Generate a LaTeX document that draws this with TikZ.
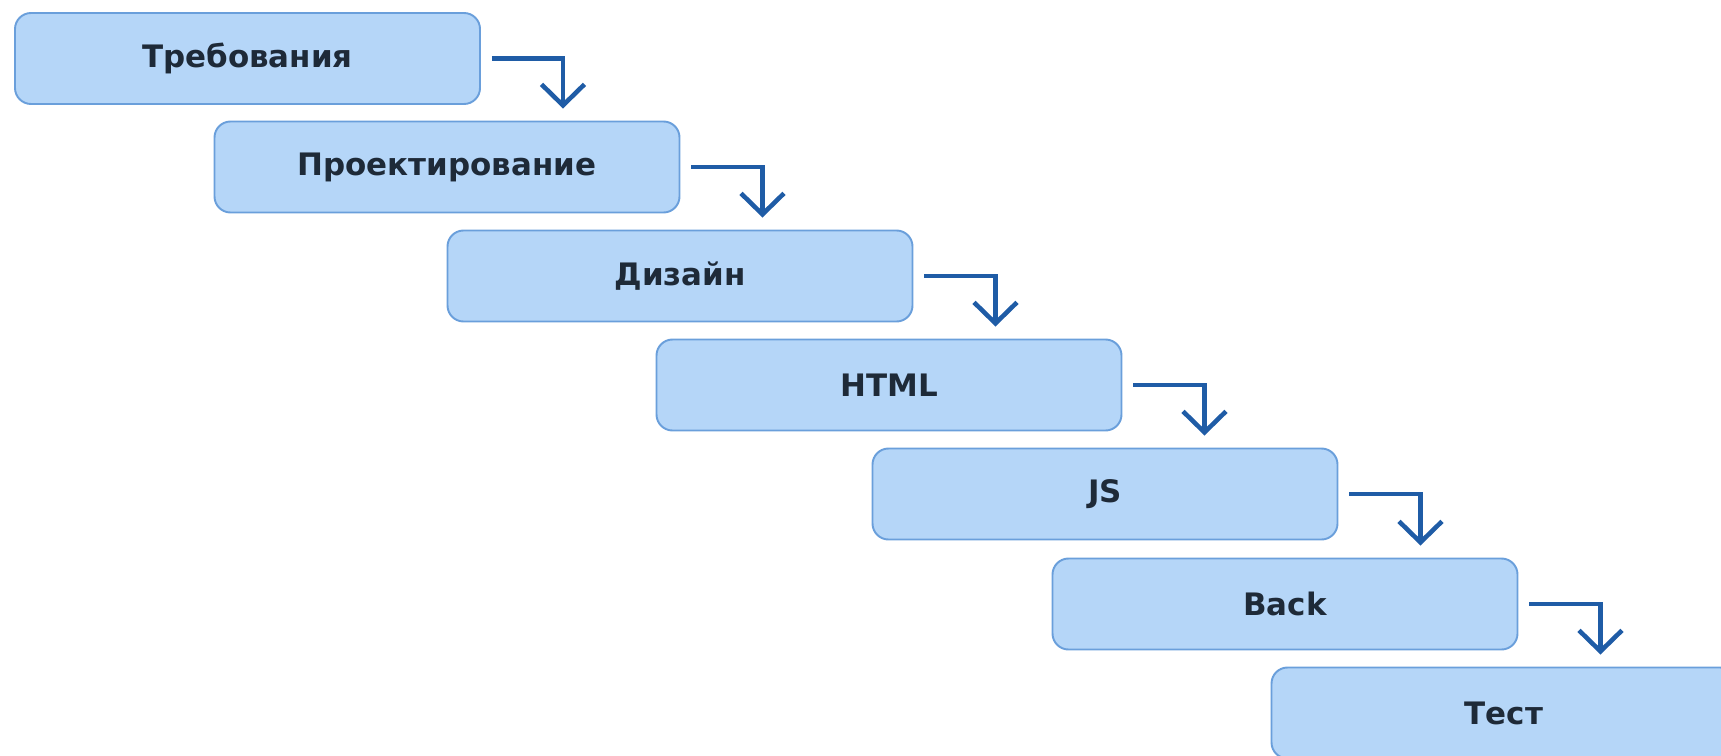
\documentclass[tikz,border=0pt]{standalone}
\usepackage{fontspec}
\usepackage{xcolor}
\usetikzlibrary{arrows.meta}
\newfontfamily\stagefont{DejaVu Sans}[BoldFont={DejaVu Sans Bold}]
\definecolor{boxfill}{HTML}{B5D6F8}
\definecolor{boxline}{HTML}{6A9FDB}
\definecolor{flowblue}{HTML}{1F5CA6}
\definecolor{stagetext}{HTML}{1E2A38}

\tikzset{
  stage/.style={draw=boxline, line width=1.1pt, fill=boxfill, rounded corners=0.32cm,
    minimum width=9.3cm, minimum height=1.82cm, inner sep=0pt,
    text=stagetext, font=\stagefont\bfseries\fontsize{17.6}{20}\selectfont},
  flow/.style={draw=flowblue, line width=2.6pt,
    -{Straight Barb[length=0.42cm,width=0.86cm,line width=2.6pt]}}
}

\begin{document}
\begin{tikzpicture}
\useasboundingbox (0,0) rectangle (34.42,-15.1);
\clip (0,0) rectangle (34.42,-15.1);

% stages
\node[stage] (req)  at (4.95,-1.17)  {Требования};
\node[stage] (proj) at (8.94,-3.34)  {Проектирование};
\node[stage] (des)  at (13.60,-5.52) {Дизайн};
\node[stage] (html) at (17.78,-7.70) {HTML};
\node[stage] (js)   at (22.10,-9.88) {JS};
\node[stage] (back) at (25.70,-12.08) {Back};
\node[stage] (test) at (30.08,-14.26) {Тест};

% steps down
\foreach \a/\b in {req/proj,proj/des,des/html,html/js,js/back,back/test}
  \draw[flow] ([xshift=0.22cm]\a.east) -| ([xshift=1.64cm,yshift=0.24cm]\a.east |- \b.north);

\end{tikzpicture}
\end{document}
